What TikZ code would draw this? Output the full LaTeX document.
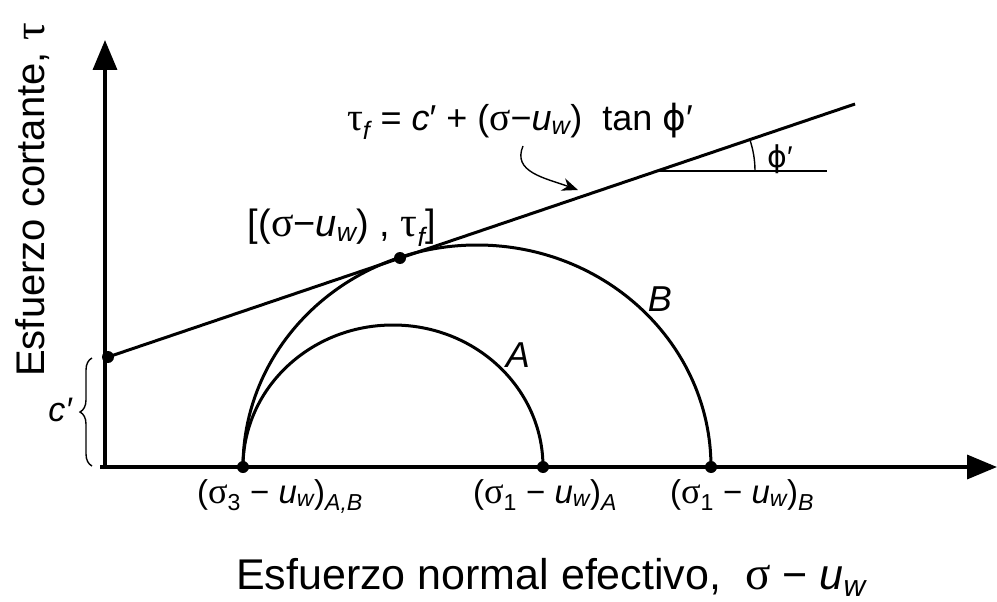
\documentclass[tikz,border=0pt]{standalone}
\usepackage{fontspec}
\setmainfont{Liberation Sans}
\newfontfamily\gk[Scale=1.1]{Liberation Serif}
\newfontfamily\phf{DejaVu Sans}
\usetikzlibrary{arrows.meta,decorations.pathreplacing,calc}
\newcommand\sig{{\gk σ}}
\newcommand\ta{{\gk τ}}
\newcommand\ph{{\phf ϕ}}
\newcommand\sbt[1]{\textsubscript{#1}}
\begin{document}
\begin{tikzpicture}[x=1pt,y=-1pt,
  axis/.style={line width=3.5pt,-{Triangle[length=30pt,width=24pt]}},
  curve/.style={line width=3pt},
  thinline/.style={line width=1.4pt},
  dot/.style={circle,fill=black,inner sep=0pt,minimum size=12pt},
  lbl/.style={font=\fontsize{36}{40}\selectfont,inner sep=0pt,anchor=base},
  tick/.style={font=\fontsize{33}{38}\selectfont,inner sep=0pt,anchor=base},
  biglbl/.style={font=\fontsize{43}{48}\selectfont,inner sep=0pt}]
\useasboundingbox (0,0) rectangle (997,602);
\coordinate (xs) at (100,467);
\coordinate (ys) at (105,469);
\coordinate (xtip) at (997,467);
\coordinate (ytip) at (105,40);
\draw[axis] (ys) -- (ytip);
\draw[axis] (xs) -- (xtip);
% circles
\draw[curve] (543,467) arc[start angle=0,end angle=-180,x radius=150,y radius=142];
\draw[curve] (711,467) arc[start angle=0,end angle=-180,x radius=234,y radius=222];
% failure envelope
\node[dot] (c) at (108,357) {};
\coordinate (fe) at (855,104);
\draw[curve] (c.center) -- (fe);
\node[dot] (t) at (400,258) {};
\node[dot] (s3) at (243,467) {};
\node[dot] (s1a) at (543,467) {};
\node[dot] (s1b) at (711,467) {};
% angle
\coordinate (av) at (657,171);
\coordinate (ah) at (827,171);
\draw[thinline] (av) -- (ah);
\draw[thinline] ($(av)+(98,0)$) arc[start angle=0,end angle=-18.7,radius=98];
\node[lbl,font=\fontsize{30}{34}\selectfont] (phi) at (780,167) {\ph′};
% formula
\node[lbl] (form) at (520,130) {\ta\sbt{\itshape f} = \textit{c}′ + (\sig−\textit{u}\sbt{\itshape w})\ \ tan \ph′};
\coordinate (ae) at (578,190);
\draw[thinline,-{Stealth[length=16pt,width=13pt]}] (523,146) .. controls (512,172) and (545,178) .. (ae);
% tangent label
\node[lbl,font=\fontsize{38}{42}\selectfont] (tl) at (342,236) {[(\sig−\textit{u}\sbt{\itshape w}) , \ta\sbt{\itshape f}]};
\node[lbl,font=\fontsize{36}{40}\selectfont\itshape] (B) at (660,311) {B};
\node[lbl,font=\fontsize{36}{40}\selectfont\itshape] (A) at (518,367) {A};
% brace
\coordinate (bb) at (92,466);
\coordinate (bt) at (92,358);
\draw[thinline,decorate,decoration={brace,amplitude=12pt}] (bb) -- (bt);
\node[lbl,font=\fontsize{34}{38}\selectfont\itshape] (cl) at (60,421) {c′};
% bottom labels
\node[tick] (l1) at (280,503) {(\sig\sbt{3} − \textit{u}\sbt{\itshape w})\sbt{\itshape A,B}};
\node[tick] (l2) at (545,503) {(\sig\sbt{1} − \textit{u}\sbt{\itshape w})\sbt{\itshape A}};
\node[tick] (l3) at (742,503) {(\sig\sbt{1} − \textit{u}\sbt{\itshape w})\sbt{\itshape B}};
\node[biglbl,anchor=base] (xl) at (551,589) {Esfuerzo normal efectivo,\ \ \sig\ − \textit{u}\sbt{\itshape w}};
\node[biglbl,font=\fontsize{40}{44}\selectfont,rotate=90] (yl) at (33,200) {Esfuerzo cortante, \ta};
\end{tikzpicture}
\end{document}
